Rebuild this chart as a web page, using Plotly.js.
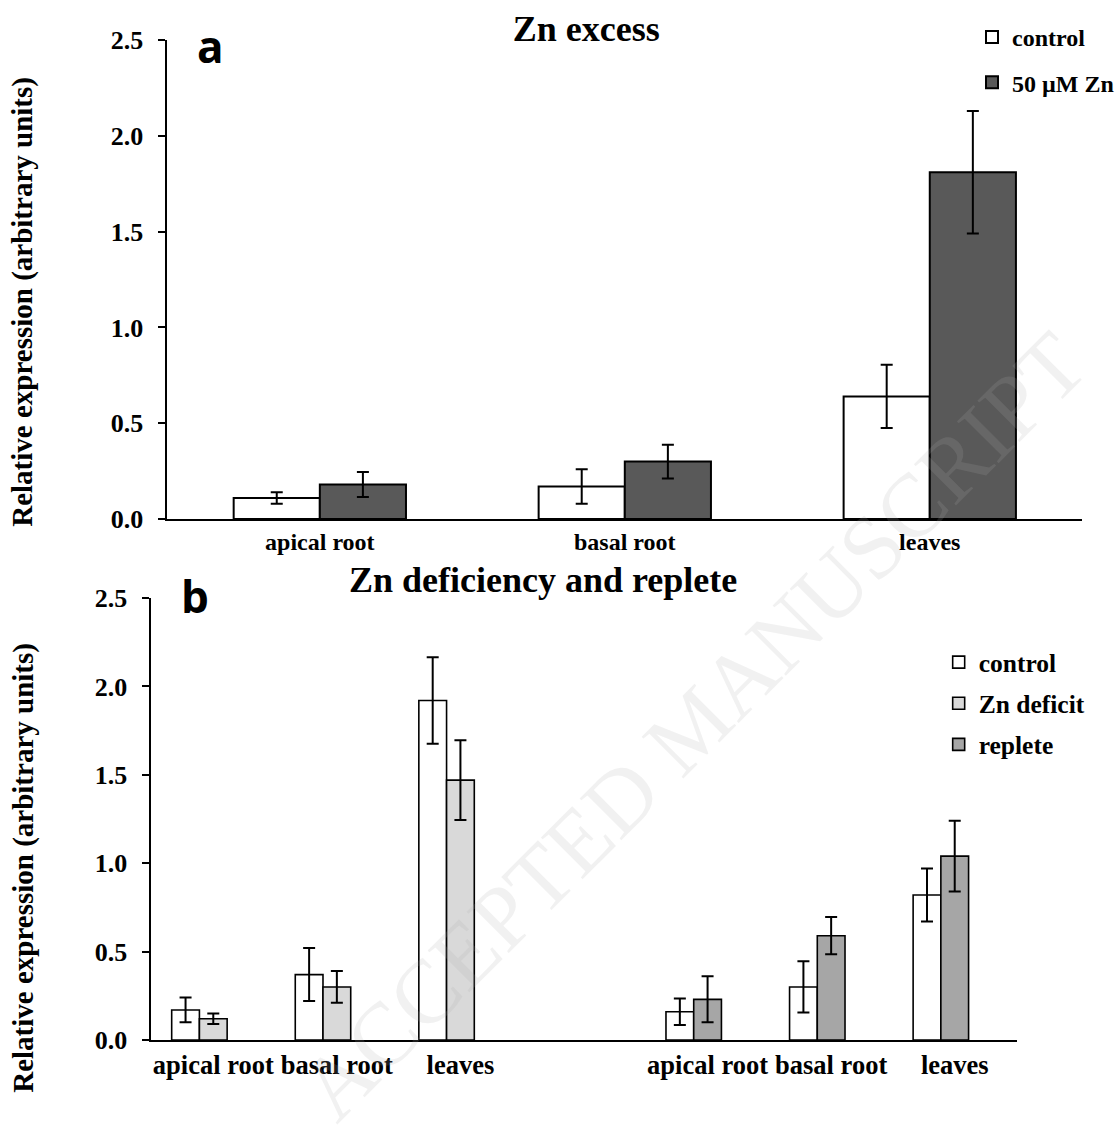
<!DOCTYPE html>
<html>
<head>
<meta charset="utf-8">
<script src="https://cdn.plot.ly/plotly-3.0.1.min.js"></script>
<style>
  html, body { margin: 0; padding: 0; background: #ffffff; }
  #chart { width: 1119px; height: 1146px; }
</style>
</head>
<body>
<div id="chart"></div>
<script>
// ---------- data ----------
const catsTop = ['apical root', 'basal root', 'leaves'];
const controlTop = [0.11, 0.17, 0.64];
const controlTopErr = [0.03, 0.09, 0.165];
const znTop = [0.18, 0.30, 1.81];
const znTopErr = [0.065, 0.088, 0.32];

const catsBottom = ['apical root', 'basal root', 'leaves', '', 'apical root', 'basal root', 'leaves'];
const controlBottom = [0.17, 0.37, 1.92, null, 0.16, 0.30, 0.82];
const controlBottomErr = [0.07, 0.15, 0.245, null, 0.075, 0.145, 0.15];
const deficitBottom = [0.12, 0.30, 1.47, null, null, null, null];
const deficitBottomErr = [0.03, 0.09, 0.225, null, null, null, null];
const repleteBottom = [null, null, null, null, 0.23, 0.59, 1.04];
const repleteBottomErr = [null, null, null, null, 0.13, 0.105, 0.20];

const yTicks = [0, 0.5, 1.0, 1.5, 2.0, 2.5];
const yTickText = ['0.0', '0.5', '1.0', '1.5', '2.0', '2.5'];
const yTitle = 'Relative expression (arbitrary units)';
const watermark = 'ACCEPTED MANUSCRIPT';

// ---------- helpers ----------
const W = 1119, H = 1146;
const px = v => v / W;
const py = v => 1 - v / H;
const SERIF = 'Liberation Serif, Times New Roman, serif';
const SANS = 'Open Sans, Liberation Sans, sans-serif';
const boldFont = (size) => ({ family: SERIF, size: size, color: '#000', weight: 'bold' });

const xTop = catsTop.map((_, i) => i);
const xBottom = catsBottom.map((_, i) => i);
const tickPosBottom = xBottom.filter(i => catsBottom[i] !== '');
const tickTextBottom = tickPosBottom.map(i => catsBottom[i]);

const errStyle = (arr) => ({ type: 'data', array: arr, visible: true, color: '#000', thickness: 2, width: 6 });

const wTop = 0.2825;
const wBot = 0.2244;
const offBot = -0.5 + (1 - 3 * wBot) / 2;

const traces = [
  { type: 'bar', name: 'control', x: xTop, y: controlTop, xaxis: 'x', yaxis: 'y',
    width: wTop, offset: -wTop,
    marker: { color: '#ffffff', line: { color: '#000', width: 2 } },
    error_y: errStyle(controlTopErr), legend: 'legend', legendgroup: 'a1' },
  { type: 'bar', name: '50 µM Zn', x: xTop, y: znTop, xaxis: 'x', yaxis: 'y',
    width: wTop, offset: 0,
    marker: { color: '#595959', line: { color: '#000', width: 2 } },
    error_y: errStyle(znTopErr), legend: 'legend', legendgroup: 'a2' },

  { type: 'bar', name: 'control', x: xBottom, y: controlBottom, xaxis: 'x2', yaxis: 'y2',
    width: wBot, offset: offBot,
    marker: { color: '#ffffff', line: { color: '#000', width: 1.6 } },
    error_y: errStyle(controlBottomErr), legend: 'legend2', legendgroup: 'b1' },
  { type: 'bar', name: 'Zn deficit', x: xBottom, y: deficitBottom, xaxis: 'x2', yaxis: 'y2',
    width: wBot, offset: offBot + wBot,
    marker: { color: '#d9d9d9', line: { color: '#000', width: 1.6 } },
    error_y: errStyle(deficitBottomErr), legend: 'legend2', legendgroup: 'b2' },
  { type: 'bar', name: 'replete', x: xBottom, y: repleteBottom, xaxis: 'x2', yaxis: 'y2',
    width: wBot, offset: offBot + wBot,
    marker: { color: '#a6a6a6', line: { color: '#000', width: 1.6 } },
    error_y: errStyle(repleteBottomErr), legend: 'legend2', legendgroup: 'b3' }
];

const yAxisCommon = {
  range: [0, 2.5], tickvals: yTicks, ticktext: yTickText,
  ticks: 'outside', ticklen: 7, tickwidth: 2, tickcolor: '#000',
  showline: true, linecolor: '#000', linewidth: 2,
  showgrid: false, zeroline: false, fixedrange: true,
  tickfont: boldFont(26), ticklabelstandoff: 10
};

const layout = {
  width: W, height: H,
  margin: { l: 0, r: 0, t: 0, b: 0 },
  paper_bgcolor: '#ffffff', plot_bgcolor: '#ffffff',
  barmode: 'overlay',
  showlegend: true,
  title: { text: 'Zn excess', x: px(592), y: py(28), xanchor: 'center', yanchor: 'middle',
           xref: 'paper', yref: 'paper', font: boldFont(36) },
  xaxis: {
    domain: [px(169), px(1093)], anchor: 'y', range: [-0.5, 2.5],
    tickvals: xTop, ticktext: catsTop, ticks: '',
    showline: true, linecolor: '#000', linewidth: 2,
    showgrid: false, zeroline: false, tickfont: boldFont(24), fixedrange: true
  },
  yaxis: Object.assign({}, yAxisCommon, { domain: [py(519), py(40)], anchor: 'x' }),
  xaxis2: {
    domain: [px(153), px(1026.6)], anchor: 'y2', range: [-0.5, 6.5],
    tickvals: tickPosBottom, ticktext: tickTextBottom, ticks: '',
    showline: true, linecolor: '#000', linewidth: 2,
    showgrid: false, zeroline: false, tickfont: boldFont(26.5), fixedrange: true
  },
  yaxis2: Object.assign({}, yAxisCommon, { domain: [py(1040), py(598)], anchor: 'x2' }),
  legend: {
    x: px(982), y: py(15), xanchor: 'left', yanchor: 'top',
    font: boldFont(24), bgcolor: 'rgba(0,0,0,0)', borderwidth: 0,
    tracegroupgap: 11, itemwidth: 30, traceorder: 'grouped'
  },
  legend2: {
    x: px(948), y: py(639), xanchor: 'left', yanchor: 'top',
    font: boldFont(25.5), bgcolor: 'rgba(0,0,0,0)', borderwidth: 0,
    tracegroupgap: 5, itemwidth: 30, traceorder: 'grouped'
  },
  annotations: [
    { text: watermark, x: px(700), y: py(726), xref: 'paper', yref: 'paper',
      xanchor: 'center', yanchor: 'middle', showarrow: false, textangle: -45,
      font: { family: SERIF, size: 90, color: 'rgba(170,170,170,0.17)' } },
    { text: yTitle, x: px(23), y: py(302), xref: 'paper', yref: 'paper', textangle: -90,
      xanchor: 'center', yanchor: 'middle', showarrow: false, font: boldFont(29) },
    { text: yTitle, x: px(23), y: py(868), xref: 'paper', yref: 'paper', textangle: -90,
      xanchor: 'center', yanchor: 'middle', showarrow: false, font: boldFont(29) },
    { text: 'Zn deficiency and replete', x: px(548), y: py(580), xref: 'paper', yref: 'paper',
      xanchor: 'center', yanchor: 'middle', showarrow: false, font: boldFont(36) },
    { text: 'a', x: px(213), y: py(46), xref: 'paper', yref: 'paper',
      xanchor: 'center', yanchor: 'middle', showarrow: false,
      font: { family: SANS, size: 44, color: '#000', weight: 'bold' } },
    { text: 'b', x: px(197), y: py(596), xref: 'paper', yref: 'paper',
      xanchor: 'center', yanchor: 'middle', showarrow: false,
      font: { family: SANS, size: 44, color: '#000', weight: 'bold' } }
  ]
};

Plotly.newPlot('chart', traces, layout, { staticPlot: true, displayModeBar: false });
</script>
</body>
</html>
